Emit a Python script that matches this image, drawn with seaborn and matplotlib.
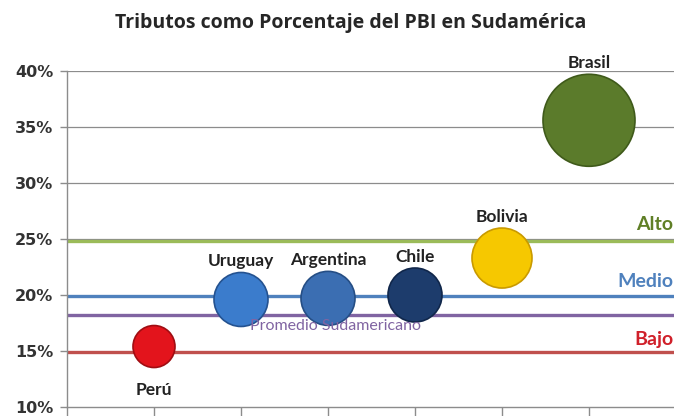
import numpy as np
import pandas as pd
import seaborn as sns
import matplotlib.pyplot as plt

paises = ['Perú', 'Uruguay', 'Argentina', 'Chile', 'Bolivia', 'Brasil']
posicion = [1, 2, 3, 4, 5, 6]
tributos = [15.4, 19.6, 19.7, 20.0, 23.3, 35.6]
radio_px = [21, 27, 27, 27, 30, 46]
colores = ['#e3141c', '#3b7ccc', '#3b6eb2', '#1d3c6c', '#f6c800', '#5b7b2b']
bordes = ['#a00d12', '#245290', '#254e85', '#10264a', '#c99a00', '#3f5a1a']

niveles = ['Alto', 'Medio', 'Promedio Sudamericano', 'Bajo']
niveles_valor = [24.8, 19.9, 18.2, 14.9]
niveles_color = ['#9bbb59', '#4f81bd', '#8064a2', '#c0504d']
etiqueta_color = ['#5f7f26', '#4f81bd', '#8064a2', '#d0202a']

df = pd.DataFrame({'pais': paises, 'x': posicion, 'y': tributos})

sns.set_style("white")
plt.rcParams['font.family'] = ['DejaVu Sans']
fig = plt.figure(figsize=(6.74, 4.16), dpi=100)
ax = fig.add_axes([67 / 674, 9 / 416, 609 / 674, 336 / 416])

# lineas de grilla
for v in [25, 30, 35, 40]:
    ax.axhline(v, color='#8c8c8c', lw=0.9, zorder=0)

# niveles
for n, v, c in zip(niveles, niveles_valor, niveles_color):
    ax.axhline(v, color=c, lw=2.4, zorder=1)

sizes = {p: (2 * r * 0.72) ** 2 for p, r in zip(paises, radio_px)}
sns.scatterplot(data=df, x='x', y='y', hue='pais', size='pais',
                palette=dict(zip(paises, colores)), sizes=sizes,
                legend=False, ax=ax, zorder=3, linewidth=1.2,
                edgecolor=bordes)

for p, x, y, r in zip(paises, posicion, tributos, radio_px):
    off = -(r * 0.72 + 16) if p == 'Perú' else r * 0.72 + 8
    ax.annotate(p, (x, y), xytext=(0, off), textcoords='offset points',
                ha='center', va='center', fontsize=12.5, fontweight='bold',
                color='#222222', family='Lato', zorder=4)

ax.text(6.97, 24.8 + 1.5, 'Alto', color=etiqueta_color[0], fontsize=14,
        fontweight='bold', ha='right', va='center', family='Lato')
ax.text(6.97, 19.9 + 1.3, 'Medio', color=etiqueta_color[1], fontsize=14,
        fontweight='bold', ha='right', va='center', family='Lato')
ax.text(6.97, 14.9 + 1.1, 'Bajo', color=etiqueta_color[3], fontsize=14,
        fontweight='bold', ha='right', va='center', family='Lato')
ax.text(2.1, 18.2 - 0.95, 'Promedio Sudamericano', color=etiqueta_color[2],
        fontsize=11.5, ha='left', va='center', family='Lato')

ax.set_xlim(0, 7)
ax.set_ylim(10, 40)
ax.set_yticks([10, 15, 20, 25, 30, 35, 40])
ax.set_yticklabels([f'{v}%' for v in [10, 15, 20, 25, 30, 35, 40]],
                   fontsize=11.5, fontweight='bold', color='#333333')
ax.set_xticks(range(0, 8))
ax.set_xticklabels([])
ax.tick_params(axis='x', bottom=True, direction='out', length=7,
               width=1, color='#8c8c8c')
ax.tick_params(axis='y', left=True, direction='out', length=5,
               width=1, color='#8c8c8c', pad=5)
ax.set_xlabel('')
ax.set_ylabel('')
for s in ['top', 'right']:
    ax.spines[s].set_visible(False)
for s in ['left', 'bottom']:
    ax.spines[s].set_color('#8c8c8c')
    ax.spines[s].set_linewidth(1)

fig.text(0.52, 0.945, 'Tributos como Porcentaje del PBI en Sudamérica',
         ha='center', va='center', fontsize=14, fontweight='bold',
         family='Open Sans')

fig.savefig('out.png', dpi=100)
